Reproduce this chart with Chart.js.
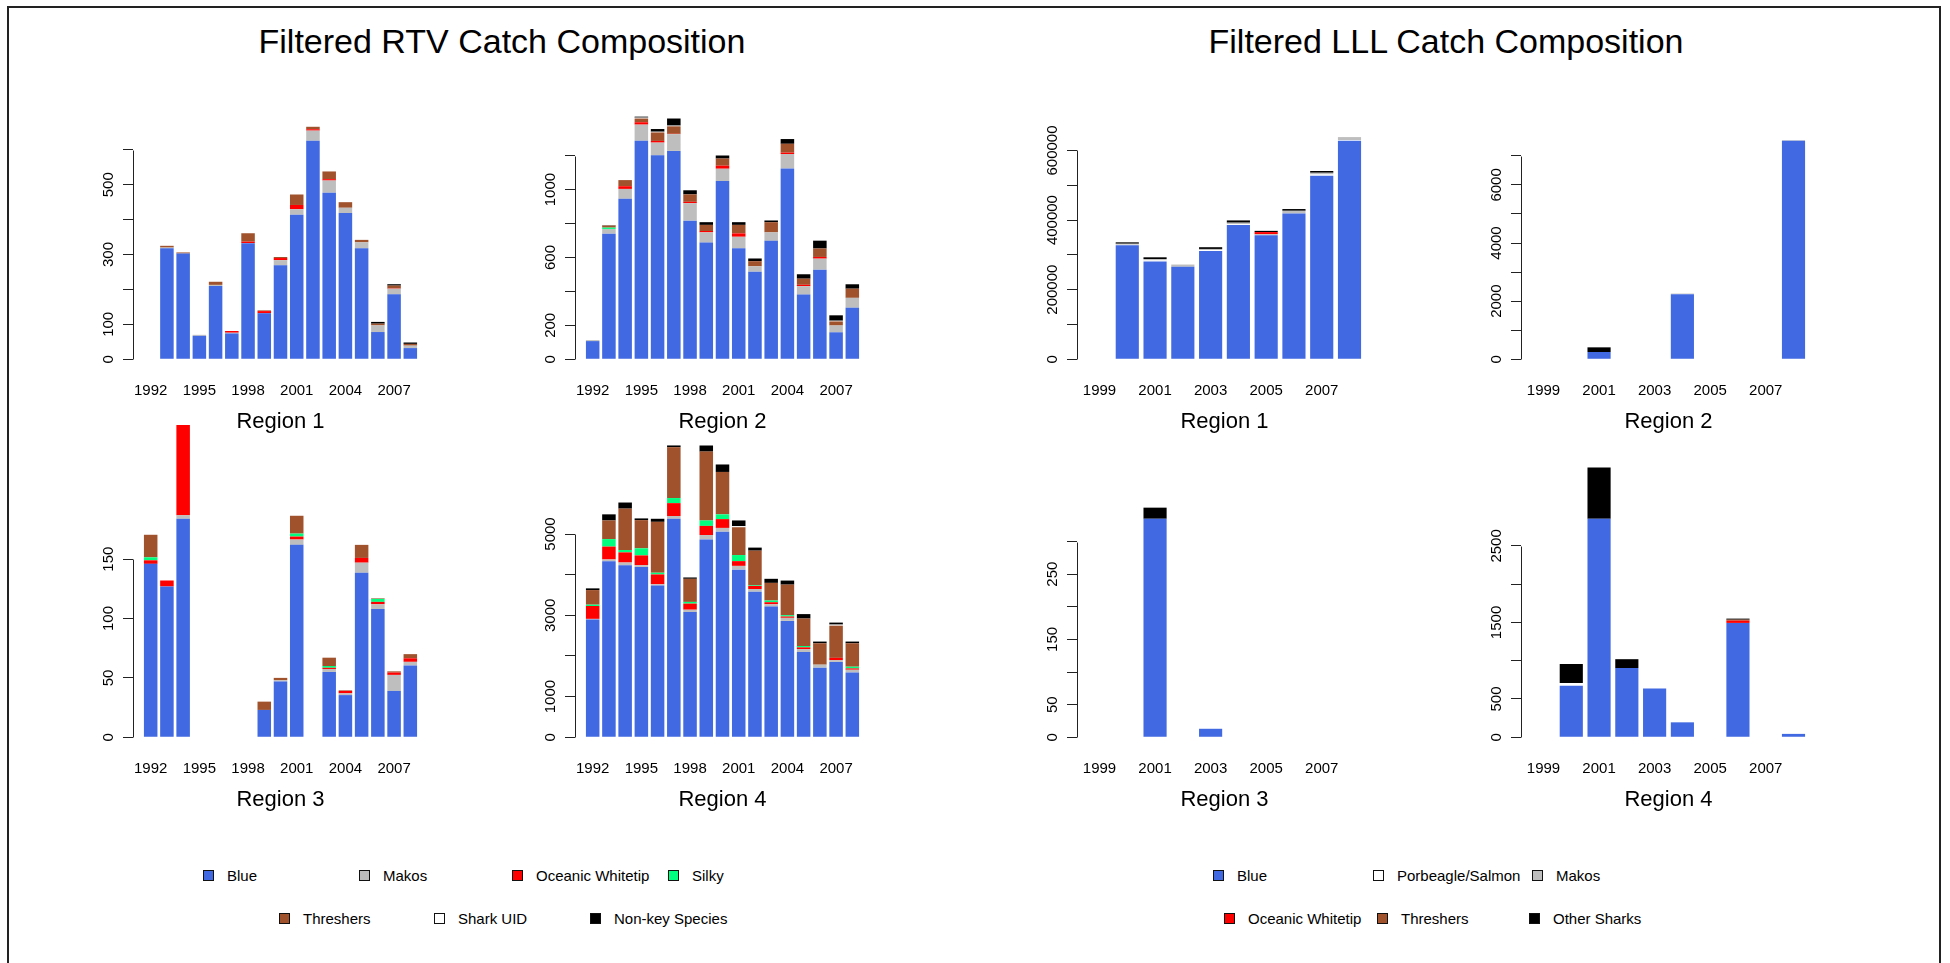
<!DOCTYPE html>
<html>
<head>
<meta charset="utf-8">
<title>Filtered Catch Composition</title>
<script src="https://cdn.jsdelivr.net/npm/chart.js@4.4.1/dist/chart.umd.min.js"></script>
<style>
body { margin: 0; background: #fff; font-family: "Liberation Sans", Arial, sans-serif; }
#page { position: relative; width: 1950px; height: 963px; overflow: hidden; background: #fff; }
#frame { position: absolute; left: 7px; top: 6px; width: 1934px; height: 1000px; border: 2px solid #222; box-sizing: border-box; }
.main-title { position: absolute; top: 21px; width: 900px; height: 40px; line-height: 40px; font-size: 34px; text-align: center; color: #000; }
canvas { position: absolute; }
.leg { position: absolute; height: 16px; line-height: 16px; font-size: 15px; color: #000; white-space: nowrap; }
.leg .box { position: absolute; left: 0; top: 2px; width: 11px; height: 11px; border: 1px solid #111; box-sizing: border-box; }
.leg .txt { position: absolute; left: 24px; top: 0; }
</style>
</head>
<body>
<div id="page">
  <div id="frame"></div>
  <div class="main-title" style="left:52px">Filtered RTV Catch Composition</div>
  <div class="main-title" style="left:996px">Filtered LLL Catch Composition</div>
</div>
<script>
// years on the x axis, and which of them get a printed label
const rtvYears = [1992, 1993, 1994, 1995, 1996, 1997, 1998, 1999, 2000, 2001, 2002, 2003, 2004, 2005, 2006, 2007, 2008];
const rtvYearTicks = [1992, 1995, 1998, 2001, 2004, 2007];
const lllYears = [1999, 2000, 2001, 2002, 2003, 2004, 2005, 2006, 2007, 2008];
const lllYearTicks = [1999, 2001, 2003, 2005, 2007];

const rtvSpecies = ['Blue', 'Makos', 'Oceanic Whitetip', 'Silky', 'Threshers', 'Shark UID', 'Non-key Species'];
const rtvColors = ['#4169E1', '#BEBEBE', '#FF0000', '#00FF7F', '#A0522D', '#FFFFFF', '#000000'];
const lllSpecies = ['Blue', 'Porbeagle/Salmon', 'Makos', 'Oceanic Whitetip', 'Threshers', 'Other Sharks'];
const lllColors = ['#4169E1', '#FFFFFF', '#BEBEBE', '#FF0000', '#A0522D', '#000000'];

// RTV region 1
const rtv1Blue  = [0, 318, 303, 67, 210, 74, 332, 132, 269, 414, 626, 477, 419, 318, 78, 186, 32];
const rtv1Makos = [0, 2, 0, 3, 3, 2, 1, 0, 15, 16, 29, 35, 15, 17, 19, 16, 7];
const rtv1Ow    = [0, 0, 0, 0, 0, 5, 4, 6, 6, 12, 4, 4, 0, 0, 0, 1, 0];
const rtv1Silky = [0, 0, 0, 0, 0, 0, 0, 0, 0, 0, 0, 0, 0, 0, 0, 0, 0];
const rtv1Thr   = [0, 5, 3, 0, 9, 0, 24, 2, 3, 30, 7, 22, 16, 7, 5, 8, 5];
const rtv1Uid   = [0, 0, 0, 0, 0, 0, 0, 0, 0, 0, 0, 0, 0, 0, 0, 0, 0];
const rtv1Nk    = [0, 0, 0, 0, 0, 0, 0, 0, 0, 0, 0, 0, 0, 0, 5, 4, 4];

// RTV region 2
const rtv2Blue  = [107, 740, 946, 1288, 1202, 1228, 817, 688, 1050, 655, 516, 698, 1125, 381, 528, 159, 304];
const rtv2Makos = [6, 28, 58, 95, 75, 99, 103, 60, 73, 67, 32, 50, 85, 50, 65, 40, 58];
const rtv2Ow    = [0, 0, 16, 14, 10, 2, 8, 8, 18, 20, 0, 0, 8, 8, 10, 0, 0];
const rtv2Silky = [0, 8, 0, 0, 0, 0, 0, 0, 0, 0, 0, 0, 0, 0, 0, 0, 0];
const rtv2Thr   = [0, 12, 36, 22, 50, 44, 44, 36, 42, 50, 30, 60, 52, 36, 50, 24, 54];
const rtv2Uid   = [0, 0, 0, 5, 4, 4, 0, 0, 0, 0, 0, 0, 0, 0, 0, 4, 0];
const rtv2Nk    = [0, 2, 0, 6, 16, 42, 24, 16, 18, 16, 16, 10, 28, 26, 46, 32, 26];

// RTV region 3
const rtv3Blue  = [146, 127, 184, 0, 0, 0, 0, 23, 47, 162, 0, 55, 35.5, 138.5, 108, 39, 60.5];
const rtv3Makos = [0, 0, 3, 0, 0, 0, 0, 0, 1, 4.5, 0, 2.5, 1.5, 8.5, 4, 13.5, 3];
const rtv3Ow    = [3, 5, 76, 0, 0, 0, 0, 0, 0, 2.5, 0, 1, 2, 4, 2, 2, 3];
const rtv3Silky = [2.5, 0, 0, 0, 0, 0, 0, 0, 0, 2.5, 0, 1.5, 0, 0, 2.5, 0, 0];
const rtv3Thr   = [19, 0, 0, 0, 0, 0, 0, 7, 2, 15, 0, 7, 0.5, 11, 0.5, 1, 3.5];
const rtv3Uid   = [0, 0, 0, 0, 0, 0, 0, 0, 0, 0, 0, 0, 0, 0, 0, 0, 0];
const rtv3Nk    = [0, 0, 0, 0, 0, 0, 0, 0, 0, 0, 0, 0, 0, 0, 0, 0, 0];

// RTV region 4
const rtv4Blue  = [2897, 4332, 4232, 4190, 3731, 5376, 3080, 4866, 5058, 4124, 3581, 3214, 2863, 2095, 1711, 1853, 1594];
const rtv4Makos = [15, 42, 67, 42, 33, 67, 58, 109, 92, 92, 67, 58, 75, 75, 75, 42, 67];
const rtv4Ow    = [317, 317, 250, 242, 242, 317, 150, 225, 217, 117, 75, 50, 33, 42, 0, 58, 33];
const rtv4Silky = [33, 184, 58, 175, 42, 125, 42, 134, 117, 150, 17, 42, 33, 33, 0, 0, 42];
const rtv4Thr   = [359, 459, 1018, 693, 1252, 1252, 568, 1694, 1043, 684, 851, 434, 751, 676, 526, 793, 576];
const rtv4Uid   = [0, 0, 0, 0, 0, 0, 0, 0, 0, 25, 0, 0, 0, 0, 0, 25, 0];
const rtv4Nk    = [42, 150, 150, 42, 75, 42, 33, 150, 184, 142, 75, 100, 100, 109, 42, 50, 42];

// LLL region 1
const lll1Blue  = [0, 327500, 281000, 265700, 311000, 386000, 356500, 419000, 527500, 628000];
const lll1Porb  = [0, 1500, 3000, 0, 3000, 2000, 0, 0, 3500, 2000];
const lll1Makos = [0, 3000, 4000, 6500, 3000, 4500, 3000, 7700, 5000, 8500];
const lll1Ow    = [0, 0, 0, 0, 0, 0, 6000, 0, 0, 0];
const lll1Thr   = [0, 0, 0, 0, 0, 0, 0, 0, 0, 0];
const lll1Other = [0, 4000, 5000, 0, 5000, 6500, 3500, 5000, 5000, 0];

// LLL region 2
const lll2Blue  = [0, 0, 250, 0, 0, 2240, 0, 0, 0, 7520];
const lll2Porb  = [0, 0, 0, 0, 0, 0, 0, 0, 0, 0];
const lll2Makos = [0, 0, 0, 0, 0, 20, 0, 0, 0, 20];
const lll2Ow    = [0, 0, 0, 0, 0, 0, 0, 0, 0, 0];
const lll2Thr   = [0, 0, 0, 0, 0, 0, 0, 0, 0, 0];
const lll2Other = [0, 0, 160, 0, 0, 0, 0, 0, 0, 0];

// LLL region 3
const lll3Blue  = [0, 0, 335, 0, 13, 0, 0, 0, 0, 0];
const lll3Porb  = [0, 0, 0, 0, 0, 0, 0, 0, 0, 0];
const lll3Makos = [0, 0, 0, 0, 0, 0, 0, 0, 0, 0];
const lll3Ow    = [0, 0, 0, 0, 0, 0, 0, 0, 0, 0];
const lll3Thr   = [0, 0, 0, 0, 0, 0, 0, 0, 0, 0];
const lll3Other = [0, 0, 17, 0, 0, 0, 0, 0, 0, 0];

// LLL region 4
const lll4Blue  = [0, 674, 2855, 904, 638, 195, 0, 1494, 0, 44];
const lll4Porb  = [0, 35, 0, 0, 0, 0, 0, 0, 0, 0];
const lll4Makos = [0, 0, 0, 0, 0, 0, 0, 0, 0, 0];
const lll4Ow    = [0, 0, 0, 0, 0, 0, 0, 30, 0, 0];
const lll4Thr   = [0, 0, 0, 0, 0, 0, 0, 12, 0, 0];
const lll4Other = [0, 248, 670, 116, 0, 0, 0, 14, 0, 0];

// y axis: ticks that carry a label (tick step and last tick are in the panel list)
const rtv1YLabels = [0, 100, 300, 500];
const rtv2YLabels = [0, 200, 600, 1000];
const rtv3YLabels = [0, 50, 100, 150];
const rtv4YLabels = [0, 1000, 3000, 5000];
const lll1YLabels = [0, 200000, 400000, 600000];
const lll2YLabels = [0, 2000, 4000, 6000];
const lll3YLabels = [0, 50, 150, 250];
const lll4YLabels = [0, 500, 1500, 2500];

const panels = [
  { title: 'Region 1', years: rtvYears, xTicks: rtvYearTicks, names: rtvSpecies, colors: rtvColors, yStep: 100, yTop: 600, yLabels: rtv1YLabels,
    series: [rtv1Blue, rtv1Makos, rtv1Ow, rtv1Silky, rtv1Thr, rtv1Uid, rtv1Nk] },
  { title: 'Region 2', years: rtvYears, xTicks: rtvYearTicks, names: rtvSpecies, colors: rtvColors, yStep: 200, yTop: 1200, yLabels: rtv2YLabels,
    series: [rtv2Blue, rtv2Makos, rtv2Ow, rtv2Silky, rtv2Thr, rtv2Uid, rtv2Nk] },
  { title: 'Region 3', years: rtvYears, xTicks: rtvYearTicks, names: rtvSpecies, colors: rtvColors, yStep: 50, yTop: 150, yLabels: rtv3YLabels,
    series: [rtv3Blue, rtv3Makos, rtv3Ow, rtv3Silky, rtv3Thr, rtv3Uid, rtv3Nk] },
  { title: 'Region 4', years: rtvYears, xTicks: rtvYearTicks, names: rtvSpecies, colors: rtvColors, yStep: 1000, yTop: 5000, yLabels: rtv4YLabels,
    series: [rtv4Blue, rtv4Makos, rtv4Ow, rtv4Silky, rtv4Thr, rtv4Uid, rtv4Nk] },
  { title: 'Region 1', years: lllYears, xTicks: lllYearTicks, names: lllSpecies, colors: lllColors, yStep: 100000, yTop: 600000, yLabels: lll1YLabels,
    series: [lll1Blue, lll1Porb, lll1Makos, lll1Ow, lll1Thr, lll1Other] },
  { title: 'Region 2', years: lllYears, xTicks: lllYearTicks, names: lllSpecies, colors: lllColors, yStep: 1000, yTop: 7000, yLabels: lll2YLabels,
    series: [lll2Blue, lll2Porb, lll2Makos, lll2Ow, lll2Thr, lll2Other] },
  { title: 'Region 3', years: lllYears, xTicks: lllYearTicks, names: lllSpecies, colors: lllColors, yStep: 50, yTop: 300, yLabels: lll3YLabels,
    series: [lll3Blue, lll3Porb, lll3Makos, lll3Ow, lll3Thr, lll3Other] },
  { title: 'Region 4', years: lllYears, xTicks: lllYearTicks, names: lllSpecies, colors: lllColors, yStep: 500, yTop: 2500, yLabels: lll4YLabels,
    series: [lll4Blue, lll4Porb, lll4Makos, lll4Ow, lll4Thr, lll4Other] }
];

// plot region corners (left, top) for each panel, same order as above
const plotBoxes = [[133, 132], [575, 132], [133, 510], [575, 510], [1077, 132], [1521, 132], [1077, 510], [1521, 510]];
const PLOT_W = 295, PLOT_H = 236;
const Y_W = 50, X_H = 67, PAD_T = 95, PAD_R = 6;

// legend spots (box left, row centre)
const rtvLegendSpots = [[203, 876], [359, 876], [512, 876], [668, 876], [279, 919], [434, 919], [590, 919]];
const lllLegendSpots = [[1213, 876], [1373, 876], [1532, 876], [1224, 919], [1377, 919], [1529, 919]];

Chart.defaults.font.family = '"Liberation Sans", Arial, sans-serif';
Chart.defaults.color = '#000';

// R style y axis: line only from 0 to the last tick, labels turned along the axis
const rAxis = {
  id: 'rAxis',
  afterDraw(chart, args, opts) {
    const ctx = chart.ctx;
    const y = chart.scales.y;
    const x0 = Math.round(chart.chartArea.left) + 0.5;
    ctx.save();
    ctx.strokeStyle = '#222';
    ctx.lineWidth = 1;
    ctx.beginPath();
    ctx.moveTo(x0, Math.round(y.getPixelForValue(0)) + 0.5);
    ctx.lineTo(x0, Math.round(y.getPixelForValue(opts.top)) + 0.5);
    ctx.stroke();
    ctx.fillStyle = '#000';
    ctx.font = '15px "Liberation Sans", Arial, sans-serif';
    ctx.textAlign = 'center';
    ctx.textBaseline = 'middle';
    for (let v of opts.labels) {
      ctx.save();
      ctx.translate(chart.chartArea.left - 24, y.getPixelForValue(v));
      ctx.rotate(-Math.PI / 2);
      ctx.fillText(String(v), 0, 0);
      ctx.restore();
    }
    ctx.restore();
  }
};

let page = document.getElementById('page');

function makePanel(p, box) {
  let canvas = document.createElement('canvas');
  canvas.width = Y_W + PLOT_W + PAD_R;
  canvas.height = PAD_T + PLOT_H + X_H;
  canvas.style.left = (box[0] - Y_W) + 'px';
  canvas.style.top = (box[1] - PAD_T) + 'px';
  page.appendChild(canvas);

  let maxBlue = Math.max(...p.series[0]);
  // barplot puts 0.2 bar widths between bars and pads the x range by 4%
  let n = p.years.length;
  let xPad = (0.5 + 0.04 * (1.2 * n - 0.2)) / 1.2;

  new Chart(canvas, {
    type: 'bar',
    data: {
      datasets: p.series.map((vals, k) => ({
        label: p.names[k],
        data: vals.map((v, i) => ({ x: p.years[i], y: v })),
        backgroundColor: p.colors[k],
        borderWidth: 0,
        categoryPercentage: 1,
        barPercentage: 1 / 1.2,
        clip: false
      }))
    },
    options: {
      responsive: false,
      animation: false,
      layout: { padding: { top: PAD_T, right: PAD_R, left: 0, bottom: 0 } },
      plugins: {
        legend: { display: false },
        tooltip: { enabled: false },
        rAxis: { labels: p.yLabels, top: p.yTop }
      },
      scales: {
        x: {
          type: 'linear',
          stacked: true,
          offset: false,
          min: p.years[0] - xPad,
          max: p.years[n - 1] + xPad,
          grid: { display: false, drawTicks: false },
          border: { display: false },
          afterBuildTicks: s => { s.ticks = p.xTicks.map(v => ({ value: v })); },
          afterFit: s => { s.height = X_H; },
          ticks: { autoSkip: false, maxRotation: 0, minRotation: 0, padding: 14, color: '#000', font: { size: 15 }, callback: v => String(v) },
          title: { display: true, text: p.title, color: '#000', font: { size: 22 }, padding: 0 }
        },
        y: {
          type: 'linear',
          stacked: true,
          min: -0.04 * maxBlue,
          max: 1.04 * maxBlue,
          grid: { drawOnChartArea: false, drawTicks: true, tickLength: 10, color: '#222' },
          border: { display: false },
          afterBuildTicks: s => {
            let t = [];
            for (let v = 0; v <= p.yTop; v += p.yStep) t.push({ value: v });
            s.ticks = t;
          },
          afterFit: s => { s.width = Y_W; },
          ticks: { padding: 0, callback: () => '' }
        }
      }
    },
    plugins: [rAxis]
  });
}

function makeLegend(names, colors, spots) {
  names.forEach((name, i) => {
    let item = document.createElement('div');
    item.className = 'leg';
    item.style.left = spots[i][0] + 'px';
    item.style.top = (spots[i][1] - 8) + 'px';
    let sw = document.createElement('span');
    sw.className = 'box';
    sw.style.background = colors[i];
    let txt = document.createElement('span');
    txt.className = 'txt';
    txt.textContent = name;
    item.appendChild(sw);
    item.appendChild(txt);
    page.appendChild(item);
  });
}

panels.forEach((p, i) => makePanel(p, plotBoxes[i]));
makeLegend(rtvSpecies, rtvColors, rtvLegendSpots);
makeLegend(lllSpecies, lllColors, lllLegendSpots);
</script>
</body>
</html>
